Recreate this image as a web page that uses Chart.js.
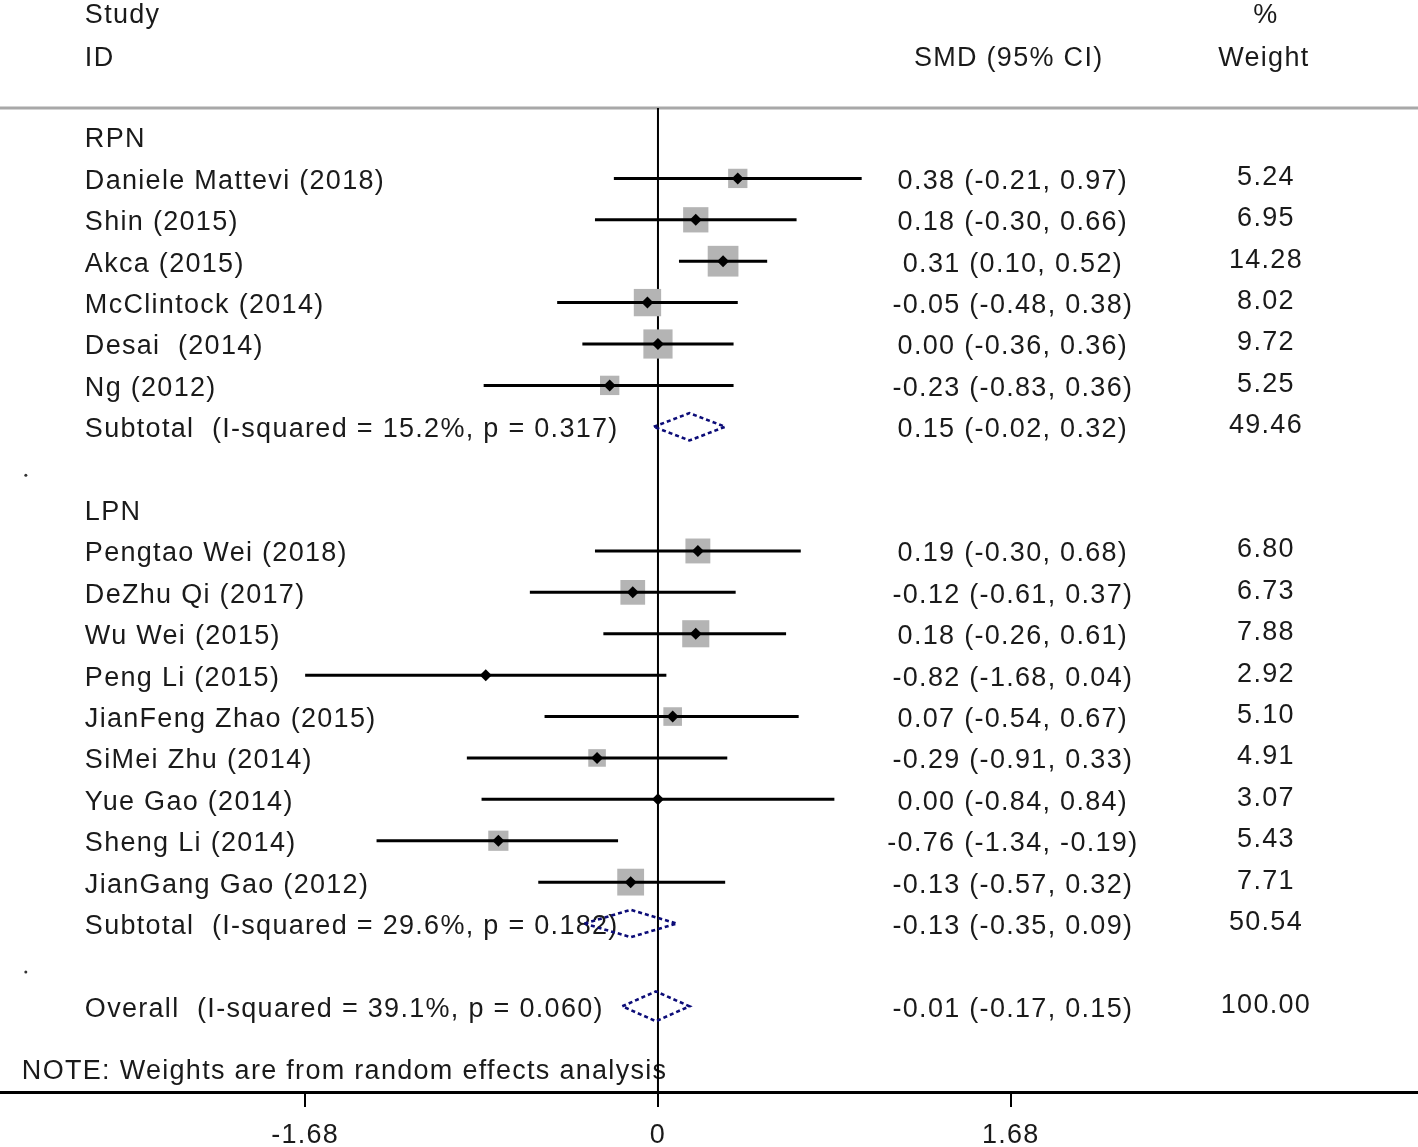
<!DOCTYPE html>
<html>
<head>
<meta charset="utf-8">
<script src="https://cdn.jsdelivr.net/npm/chart.js@4.4.1/dist/chart.umd.min.js"></script>
<style>
  html, body { margin: 0; padding: 0; background: #fff; }
  #wrap { width: 1418px; height: 1147px; }
</style>
</head>
<body>
<div id="wrap"><canvas id="forest"></canvas></div>
<script>
// Forest plot: SMD by study, RPN vs LPN subgroups

const groupNames = ['RPN', 'LPN'];
const groupRows = [0, 9];

const studies = [
  'Daniele Mattevi (2018)', 'Shin (2015)', 'Akca (2015)', 'McClintock (2014)', 'Desai  (2014)', 'Ng (2012)',
  'Pengtao Wei (2018)', 'DeZhu Qi (2017)', 'Wu Wei (2015)', 'Peng Li (2015)', 'JianFeng Zhao (2015)',
  'SiMei Zhu (2014)', 'Yue Gao (2014)', 'Sheng Li (2014)', 'JianGang Gao (2012)'
];
const studyRows = [1, 2, 3, 4, 5, 6, 10, 11, 12, 13, 14, 15, 16, 17, 18];
const smd    = [0.38, 0.18, 0.31, -0.05, 0.00, -0.23, 0.19, -0.12, 0.18, -0.82, 0.07, -0.29, 0.00, -0.76, -0.13];
const lower  = [-0.21, -0.30, 0.10, -0.48, -0.36, -0.83, -0.30, -0.61, -0.26, -1.68, -0.54, -0.91, -0.84, -1.34, -0.57];
const upper  = [0.97, 0.66, 0.52, 0.38, 0.36, 0.36, 0.68, 0.37, 0.61, 0.04, 0.67, 0.33, 0.84, -0.19, 0.32];
const weights = [5.24, 6.95, 14.28, 8.02, 9.72, 5.25, 6.80, 6.73, 7.88, 2.92, 5.10, 4.91, 3.07, 5.43, 7.71];

const pooledLabels = [
  'Subtotal  (I-squared = 15.2%, p = 0.317)',
  'Subtotal  (I-squared = 29.6%, p = 0.182)',
  'Overall  (I-squared = 39.1%, p = 0.060)'
];
const pooledRows = [7, 19, 21];
const pooledEst = [0.15, -0.13, -0.01];
const pooledLow = [-0.02, -0.35, -0.17];
const pooledHigh = [0.32, 0.09, 0.15];
const pooledWeights = [49.46, 50.54, 100.00];

const blankRows = [8, 20];
const tickValues = [-1.68, 0, 1.68];
const tickLabels = ['-1.68', '0', '1.68'];
const noteText = 'NOTE: Weights are from random effects analysis';

// layout in data units
const X_MIN = -3.133, X_MAX = 3.619;
const Y_MIN = -3.31, Y_MAX = 23.07;
const HEADER_LINE = -0.7;
const COL_LABEL = -2.729, COL_CI = 1.69, COL_W = 2.895;
const FAMILY = '"Liberation Sans", Arial, sans-serif';
const FONT = '27px ' + FAMILY;

const fmt = v => v.toFixed(2);
const boxSide = w => Math.max(0, 31 * (1 - Math.exp(-(w - 2.9) / 2.4)));

const datasets = [];

// header rule and zero line
datasets.push({ type: 'line', data: [{ x: X_MIN, y: HEADER_LINE }, { x: X_MAX, y: HEADER_LINE }],
  borderColor: '#a8a8a8', borderWidth: 3, pointRadius: 0, order: 5 });
datasets.push({ type: 'line', data: [{ x: 0, y: HEADER_LINE }, { x: 0, y: Y_MAX }],
  borderColor: '#000', borderWidth: 2, pointRadius: 0, order: 4 });

// weight boxes
datasets.push({ type: 'scatter', data: studies.map((s, i) => ({ x: smd[i], y: studyRows[i] })),
  pointStyle: 'rect', pointRadius: weights.map(w => boxSide(w) / Math.SQRT2),
  backgroundColor: '#b4b4b4', borderWidth: 0, order: 3 });

// CI lines
studies.forEach((s, i) => {
  datasets.push({ type: 'line', data: [{ x: lower[i], y: studyRows[i] }, { x: upper[i], y: studyRows[i] }],
    borderColor: '#000', borderWidth: 3, pointRadius: 0, order: 2 });
});

// point estimates
datasets.push({ type: 'scatter', data: studies.map((s, i) => ({ x: smd[i], y: studyRows[i] })),
  pointStyle: 'rectRot', pointRadius: 6, backgroundColor: '#000', borderWidth: 0, order: 1 });

// pooled diamonds
pooledRows.forEach((r, i) => {
  const h = i === 2 ? 0.36 : 0.33;
  datasets.push({ type: 'line', data: [
      { x: pooledLow[i], y: r }, { x: pooledEst[i], y: r - h }, { x: pooledHigh[i], y: r },
      { x: pooledEst[i], y: r + h }, { x: pooledLow[i], y: r }
    ],
    borderColor: '#0c0c78', borderWidth: 2.6, borderDash: [4, 3], pointRadius: 0, tension: 0, order: 0 });
});

// small dots on the blank rows
datasets.push({ type: 'scatter', data: blankRows.map(r => ({ x: -3.01, y: r + 0.17 })),
  pointRadius: 1.5, backgroundColor: '#333', borderWidth: 0, order: 0 });

const textPlugin = {
  id: 'forestText',
  beforeDraw(chart) { chart.ctx.letterSpacing = '1.3px'; },
  beforeDatasetsDraw(chart) {
    const { ctx, scales: { x, y } } = chart;
    ctx.save();
    ctx.font = FONT;
    ctx.fillStyle = '#1a1a1a';
    ctx.textBaseline = 'middle';
    const put = (txt, xv, row, align, dy = 0) => {
      ctx.textAlign = align;
      ctx.fillText(txt, x.getPixelForValue(xv), y.getPixelForValue(row) + 3 + dy);
    };
    put('Study', COL_LABEL, -3, 'left');
    put('ID', COL_LABEL, -1.96, 'left');
    put('SMD (95% CI)', COL_CI - 0.02, -1.96, 'center');
    put('%', COL_W, -3, 'center');
    put('Weight', COL_W - 0.01, -1.96, 'center');
    groupNames.forEach((g, i) => put(g, COL_LABEL, groupRows[i], 'left'));
    studies.forEach((s, i) => {
      put(s, COL_LABEL, studyRows[i], 'left');
      put(`${fmt(smd[i])} (${fmt(lower[i])}, ${fmt(upper[i])})`, COL_CI, studyRows[i], 'center');
      put(fmt(weights[i]), COL_W, studyRows[i], 'center', -4);
    });
    pooledLabels.forEach((s, i) => {
      put(s, COL_LABEL, pooledRows[i], 'left');
      put(`${fmt(pooledEst[i])} (${fmt(pooledLow[i])}, ${fmt(pooledHigh[i])})`, COL_CI, pooledRows[i], 'center');
      put(fmt(pooledWeights[i]), COL_W, pooledRows[i], 'center', -4);
    });
    put(noteText, -3.029, 22.51, 'left');
    ctx.restore();
  }
};

new Chart(document.getElementById('forest'), {
  type: 'scatter',
  data: { datasets },
  options: {
    responsive: true,
    maintainAspectRatio: false,
    animation: false,
    layout: { padding: 0, autoPadding: false },
    plugins: { legend: { display: false }, tooltip: { enabled: false } },
    scales: {
      x: {
        type: 'linear', min: X_MIN, max: X_MAX,
        afterBuildTicks: scale => { scale.ticks = tickValues.map(v => ({ value: v })); },
        afterFit: scale => { scale.height = 55; },
        ticks: {
          color: '#1a1a1a', padding: 12, font: { family: FAMILY, size: 27 },
          callback: (v) => tickLabels[tickValues.indexOf(v)] ?? ''
        },
        grid: { drawOnChartArea: false, drawTicks: true, tickLength: 15, color: '#000', lineWidth: 2 },
        border: { display: true, color: '#000', width: 3 }
      },
      y: { type: 'linear', display: false, reverse: true, min: Y_MIN, max: Y_MAX }
    }
  },
  plugins: [textPlugin]
});
</script>
</body>
</html>
